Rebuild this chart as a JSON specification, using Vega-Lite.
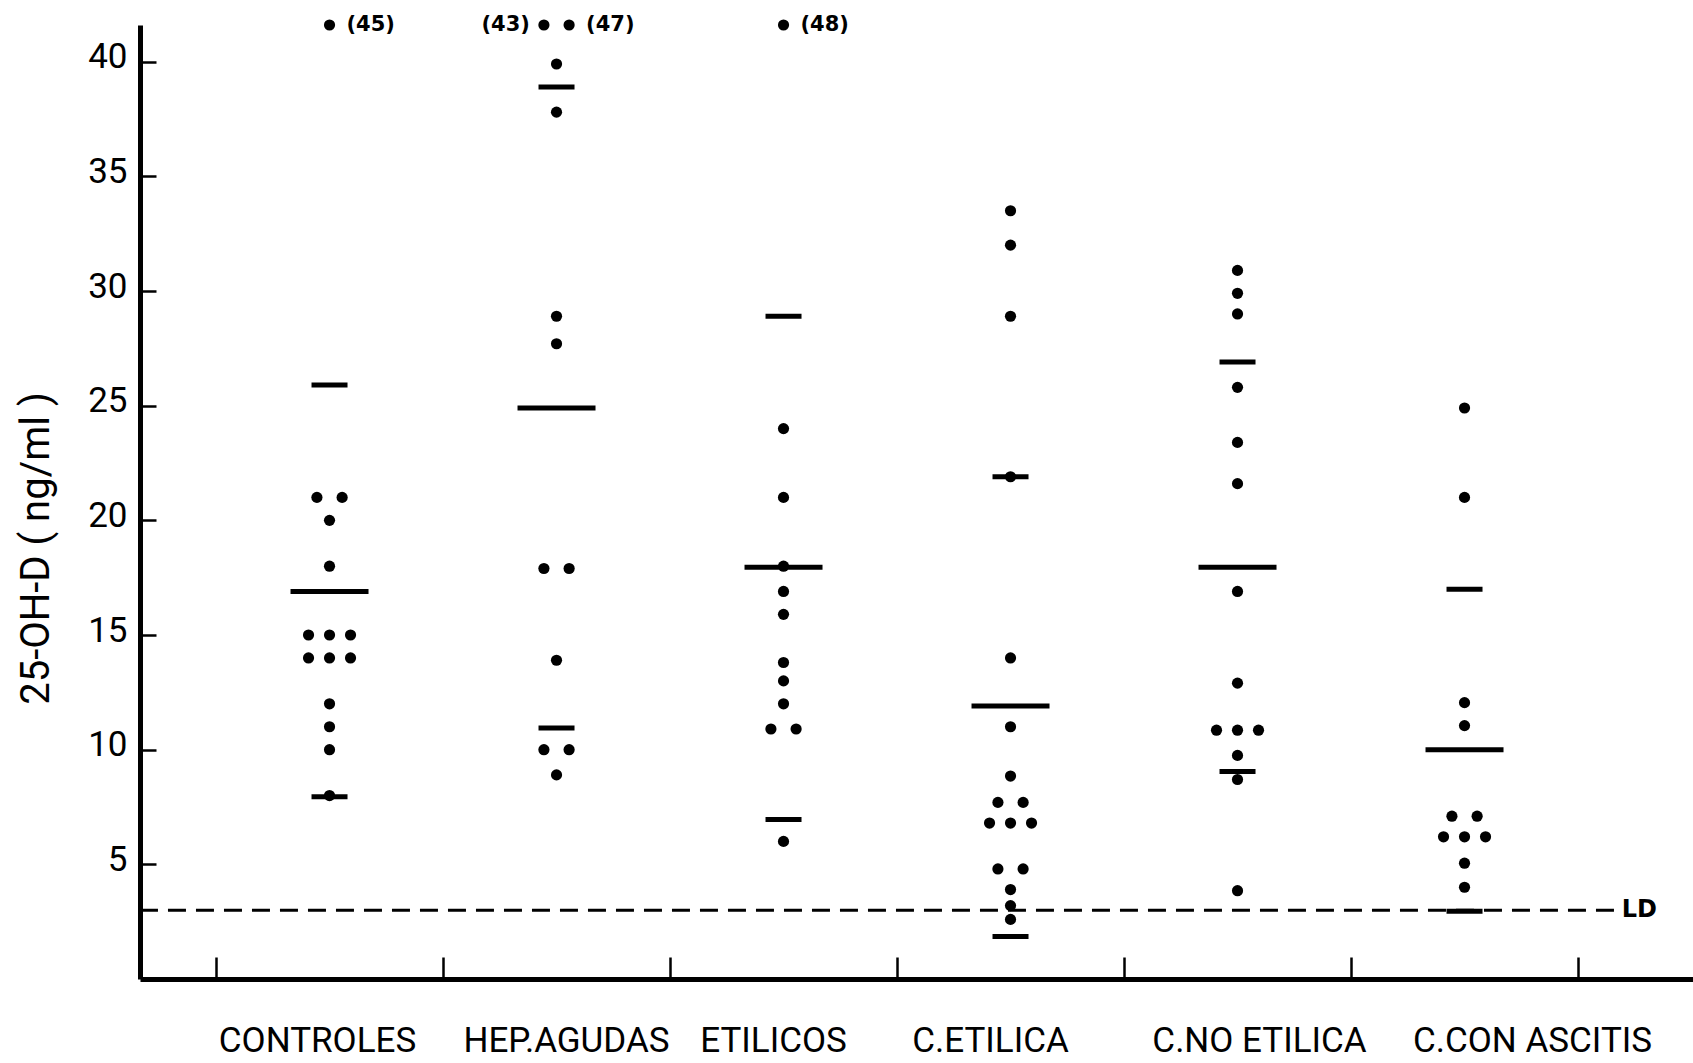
{
  "$schema": "https://vega.github.io/schema/vega-lite/v6.json",
  "width": 1553,
  "height": 954,
  "autosize": {"type": "none"},
  "padding": {"left": 140, "top": 25, "right": 0, "bottom": 84},
  "background": "white",
  "config": {
    "view": {"stroke": null},
    "font": "Roboto",
    "axis": {"grid": false, "domainColor": "black", "tickColor": "black", "labelColor": "black", "titleColor": "black"}
  },
  "datasets": {
    "puntos": [
      {"grupo": "CONTROLES", "valor": 45, "carril": 0},
      {"grupo": "CONTROLES", "valor": 21, "carril": -0.6},
      {"grupo": "CONTROLES", "valor": 21, "carril": 0.6},
      {"grupo": "CONTROLES", "valor": 20, "carril": 0},
      {"grupo": "CONTROLES", "valor": 18, "carril": 0},
      {"grupo": "CONTROLES", "valor": 15, "carril": -1},
      {"grupo": "CONTROLES", "valor": 15, "carril": 0},
      {"grupo": "CONTROLES", "valor": 15, "carril": 1},
      {"grupo": "CONTROLES", "valor": 14, "carril": -1},
      {"grupo": "CONTROLES", "valor": 14, "carril": 0},
      {"grupo": "CONTROLES", "valor": 14, "carril": 1},
      {"grupo": "CONTROLES", "valor": 12, "carril": 0},
      {"grupo": "CONTROLES", "valor": 11, "carril": 0},
      {"grupo": "CONTROLES", "valor": 10, "carril": 0},
      {"grupo": "CONTROLES", "valor": 8, "carril": 0},
      {"grupo": "HEP.AGUDAS", "valor": 43, "carril": -0.6},
      {"grupo": "HEP.AGUDAS", "valor": 47, "carril": 0.6},
      {"grupo": "HEP.AGUDAS", "valor": 39.9, "carril": 0},
      {"grupo": "HEP.AGUDAS", "valor": 37.8, "carril": 0},
      {"grupo": "HEP.AGUDAS", "valor": 28.9, "carril": 0},
      {"grupo": "HEP.AGUDAS", "valor": 27.7, "carril": 0},
      {"grupo": "HEP.AGUDAS", "valor": 17.9, "carril": -0.6},
      {"grupo": "HEP.AGUDAS", "valor": 17.9, "carril": 0.6},
      {"grupo": "HEP.AGUDAS", "valor": 13.9, "carril": 0},
      {"grupo": "HEP.AGUDAS", "valor": 10, "carril": -0.6},
      {"grupo": "HEP.AGUDAS", "valor": 10, "carril": 0.6},
      {"grupo": "HEP.AGUDAS", "valor": 8.9, "carril": 0},
      {"grupo": "ETILICOS", "valor": 48, "carril": 0},
      {"grupo": "ETILICOS", "valor": 24, "carril": 0},
      {"grupo": "ETILICOS", "valor": 21, "carril": 0},
      {"grupo": "ETILICOS", "valor": 18, "carril": 0},
      {"grupo": "ETILICOS", "valor": 16.9, "carril": 0},
      {"grupo": "ETILICOS", "valor": 15.9, "carril": 0},
      {"grupo": "ETILICOS", "valor": 13.8, "carril": 0},
      {"grupo": "ETILICOS", "valor": 13, "carril": 0},
      {"grupo": "ETILICOS", "valor": 12, "carril": 0},
      {"grupo": "ETILICOS", "valor": 10.9, "carril": -0.6},
      {"grupo": "ETILICOS", "valor": 10.9, "carril": 0.6},
      {"grupo": "ETILICOS", "valor": 6, "carril": 0},
      {"grupo": "C.ETILICA", "valor": 33.5, "carril": 0},
      {"grupo": "C.ETILICA", "valor": 32, "carril": 0},
      {"grupo": "C.ETILICA", "valor": 28.9, "carril": 0},
      {"grupo": "C.ETILICA", "valor": 21.9, "carril": 0},
      {"grupo": "C.ETILICA", "valor": 14, "carril": 0},
      {"grupo": "C.ETILICA", "valor": 11, "carril": 0},
      {"grupo": "C.ETILICA", "valor": 8.85, "carril": 0},
      {"grupo": "C.ETILICA", "valor": 7.7, "carril": -0.6},
      {"grupo": "C.ETILICA", "valor": 7.7, "carril": 0.6},
      {"grupo": "C.ETILICA", "valor": 6.8, "carril": -1},
      {"grupo": "C.ETILICA", "valor": 6.8, "carril": 0},
      {"grupo": "C.ETILICA", "valor": 6.8, "carril": 1},
      {"grupo": "C.ETILICA", "valor": 4.8, "carril": -0.6},
      {"grupo": "C.ETILICA", "valor": 4.8, "carril": 0.6},
      {"grupo": "C.ETILICA", "valor": 3.9, "carril": 0},
      {"grupo": "C.ETILICA", "valor": 3.2, "carril": 0},
      {"grupo": "C.ETILICA", "valor": 2.6, "carril": 0},
      {"grupo": "C.NO ETILICA", "valor": 30.9, "carril": 0},
      {"grupo": "C.NO ETILICA", "valor": 29.9, "carril": 0},
      {"grupo": "C.NO ETILICA", "valor": 29, "carril": 0},
      {"grupo": "C.NO ETILICA", "valor": 25.8, "carril": 0},
      {"grupo": "C.NO ETILICA", "valor": 23.4, "carril": 0},
      {"grupo": "C.NO ETILICA", "valor": 21.6, "carril": 0},
      {"grupo": "C.NO ETILICA", "valor": 16.9, "carril": 0},
      {"grupo": "C.NO ETILICA", "valor": 12.9, "carril": 0},
      {"grupo": "C.NO ETILICA", "valor": 10.85, "carril": -1},
      {"grupo": "C.NO ETILICA", "valor": 10.85, "carril": 0},
      {"grupo": "C.NO ETILICA", "valor": 10.85, "carril": 1},
      {"grupo": "C.NO ETILICA", "valor": 9.75, "carril": 0},
      {"grupo": "C.NO ETILICA", "valor": 8.7, "carril": 0},
      {"grupo": "C.NO ETILICA", "valor": 3.85, "carril": 0},
      {"grupo": "C.CON ASCITIS", "valor": 24.9, "carril": 0},
      {"grupo": "C.CON ASCITIS", "valor": 21, "carril": 0},
      {"grupo": "C.CON ASCITIS", "valor": 12.05, "carril": 0},
      {"grupo": "C.CON ASCITIS", "valor": 11.05, "carril": 0},
      {"grupo": "C.CON ASCITIS", "valor": 7.1, "carril": -0.6},
      {"grupo": "C.CON ASCITIS", "valor": 7.1, "carril": 0.6},
      {"grupo": "C.CON ASCITIS", "valor": 6.2, "carril": -1},
      {"grupo": "C.CON ASCITIS", "valor": 6.2, "carril": 0},
      {"grupo": "C.CON ASCITIS", "valor": 6.2, "carril": 1},
      {"grupo": "C.CON ASCITIS", "valor": 5.05, "carril": 0},
      {"grupo": "C.CON ASCITIS", "valor": 4, "carril": 0}
    ],
    "lineas": [
      {"grupo": "CONTROLES", "tipo": "media", "valor": 16.9},
      {"grupo": "CONTROLES", "tipo": "DE", "valor": 25.9},
      {"grupo": "CONTROLES", "tipo": "DE", "valor": 7.95},
      {"grupo": "HEP.AGUDAS", "tipo": "media", "valor": 24.9},
      {"grupo": "HEP.AGUDAS", "tipo": "DE", "valor": 38.9},
      {"grupo": "HEP.AGUDAS", "tipo": "DE", "valor": 10.95},
      {"grupo": "ETILICOS", "tipo": "media", "valor": 17.95},
      {"grupo": "ETILICOS", "tipo": "DE", "valor": 28.9},
      {"grupo": "ETILICOS", "tipo": "DE", "valor": 6.95},
      {"grupo": "C.ETILICA", "tipo": "media", "valor": 11.9},
      {"grupo": "C.ETILICA", "tipo": "DE", "valor": 21.9},
      {"grupo": "C.ETILICA", "tipo": "DE", "valor": 1.85},
      {"grupo": "C.NO ETILICA", "tipo": "media", "valor": 17.95},
      {"grupo": "C.NO ETILICA", "tipo": "DE", "valor": 26.9},
      {"grupo": "C.NO ETILICA", "tipo": "DE", "valor": 9.05},
      {"grupo": "C.CON ASCITIS", "tipo": "media", "valor": 10},
      {"grupo": "C.CON ASCITIS", "tipo": "DE", "valor": 17},
      {"grupo": "C.CON ASCITIS", "tipo": "DE", "valor": 2.95}
    ],
    "limite": [{"valor": 3, "nombre": "LD"}]
  },
  "encoding": {
    "x": {
      "field": "grupo",
      "type": "nominal",
      "scale": {
        "type": "band",
        "domain": ["CONTROLES", "HEP.AGUDAS", "ETILICOS", "C.ETILICA", "C.NO ETILICA", "C.CON ASCITIS"],
        "paddingInner": 0,
        "paddingOuter": 0.4207,
        "align": 0.398
      },
      "axis": {
        "title": null,
        "labelAngle": 0,
        "labelFont": "Roboto",
        "labelFontSize": 35,
        "labelLimit": 0,
        "labelBaseline": "top",
        "labelPadding": 66,
        "labelOffset": {
          "condition": [
            {"test": "datum.value === 'CONTROLES'", "value": -12},
            {"test": "datum.value === 'HEP.AGUDAS'", "value": 10},
            {"test": "datum.value === 'ETILICOS'", "value": -10},
            {"test": "datum.value === 'C.ETILICA'", "value": -20},
            {"test": "datum.value === 'C.NO ETILICA'", "value": 22},
            {"test": "datum.value === 'C.CON ASCITIS'", "value": 68}
          ],
          "value": 0
        },
        "tickSize": -22,
        "tickWidth": 2.5,
        "bandPosition": 1,
        "tickExtra": true,
        "domainWidth": 5
      }
    },
    "y": {
      "field": "valor",
      "type": "quantitative",
      "scale": {"domain": [0, 41.6], "nice": false, "zero": true, "clamp": true},
      "axis": {
        "title": "25-OH-D ( ng/ml )",
        "values": [5, 10, 15, 20, 25, 30, 35, 40],
        "tickSize": -16,
        "tickWidth": 2.5,
        "labelPadding": 29,
        "labelFont": "Roboto",
        "labelFontSize": 35,
        "labelOffset": -5,
        "domainWidth": 5,
        "titleFont": "Roboto",
        "titleFontSize": 40,
        "titleFontWeight": "normal",
        "titleAngle": -90,
        "titleAlign": "center",
        "titleBaseline": "middle",
        "titleX": -104,
        "titleY": 523
      }
    }
  },
  "layer": [
    {
      "data": {"name": "limite"},
      "mark": {"type": "rule", "strokeDash": [18, 10], "strokeWidth": 3, "color": "black"},
      "encoding": {
        "x": {"datum": "CONTROLES", "type": "nominal", "bandPosition": -0.335},
        "x2": {"datum": "C.CON ASCITIS", "bandPosition": 1.165}
      }
    },
    {
      "data": {"name": "limite"},
      "mark": {"type": "text", "align": "center", "baseline": "middle", "font": "DejaVu Sans", "fontSize": 24, "fontWeight": "bold", "color": "black"},
      "encoding": {
        "x": {"datum": "C.CON ASCITIS", "type": "nominal", "bandPosition": 1.27},
        "text": {"field": "nombre"}
      }
    },
    {
      "data": {"name": "lineas"},
      "mark": {"type": "tick", "thickness": 5, "color": "black", "opacity": 1},
      "encoding": {
        "size": {"field": "tipo", "type": "nominal", "scale": {"domain": ["media", "DE"], "range": [78, 36]}, "legend": null}
      }
    },
    {
      "data": {"name": "puntos"},
      "mark": {"type": "circle", "size": 125, "opacity": 1, "color": "black"},
      "encoding": {
        "xOffset": {"field": "carril", "type": "quantitative", "scale": {"domain": [-1, 1], "range": [92.5, 134.5]}}
      }
    },
    {
      "data": {"name": "puntos"},
      "transform": [
        {"filter": "datum.valor > 41.6 && datum.carril >= 0"},
        {"calculate": "'(' + datum.valor + ')'", "as": "nota"}
      ],
      "mark": {"type": "text", "align": "left", "baseline": "middle", "dx": 17, "font": "DejaVu Sans", "fontSize": 21, "fontWeight": "bold", "color": "black"},
      "encoding": {
        "xOffset": {"field": "carril", "type": "quantitative", "scale": {"domain": [-1, 1], "range": [92.5, 134.5]}},
        "text": {"field": "nota"}
      }
    },
    {
      "data": {"name": "puntos"},
      "transform": [
        {"filter": "datum.valor > 41.6 && datum.carril < 0"},
        {"calculate": "'(' + datum.valor + ')'", "as": "nota"}
      ],
      "mark": {"type": "text", "align": "right", "baseline": "middle", "dx": -14, "font": "DejaVu Sans", "fontSize": 21, "fontWeight": "bold", "color": "black"},
      "encoding": {
        "xOffset": {"field": "carril", "type": "quantitative", "scale": {"domain": [-1, 1], "range": [92.5, 134.5]}},
        "text": {"field": "nota"}
      }
    }
  ]
}
